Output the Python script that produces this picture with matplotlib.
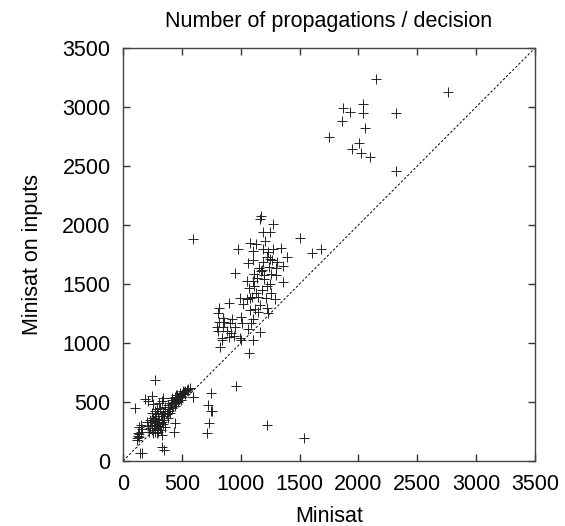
import numpy as np
import matplotlib
matplotlib.use("Agg")
import matplotlib.pyplot as plt

plt.rcParams['font.family'] = ['Liberation Sans', 'DejaVu Sans']

# points: (Minisat, Minisat on inputs)
upper_pts = [(2152, 3235), (2759, 3125), (1869, 2994), (1926, 2960), (2039, 3023), (2042, 2947),
             (2317, 2949), (1858, 2879), (2053, 2819), (1753, 2743), (2005, 2695), (1943, 2641),
             (2019, 2613), (2101, 2574), (2317, 2458)]

middle_pts = [(1172, 2079), (1167, 2051), (1274, 2006), (1187, 1938), (1249, 1943), (592, 1879),
              (1506, 1893), (1209, 1867), (1079, 1845), (1133, 1836), (980, 1794), (1102, 1782),
              (1272, 1797), (1340, 1805), (1606, 1760), (1680, 1794), (1396, 1731), (1221, 1726),
              (1249, 1709), (1065, 1681), (1309, 1686), (1107, 1703), (1297, 1633), (1240, 1647),
              (1359, 1655), (1155, 1633), (1172, 1610), (952, 1596), (1116, 1585), (1198, 1574),
              (1257, 1585), (1054, 1528), (1102, 1528), (1357, 1520), (1221, 1486), (1249, 1497),
              (1071, 1463), (1116, 1480), (1099, 1393), (1079, 1379), (997, 1381), (1051, 1373),
              (1150, 1387), (1215, 1379), (1291, 1370), (898, 1336), (1017, 1328), (1167, 1325),
              (818, 1297), (1221, 1299), (1079, 1280), (1121, 1286), (1150, 1265), (805, 1252),
              (1229, 1252), (850, 1209), (926, 1206), (1003, 1223), (1102, 1203), (816, 1181),
              (861, 1181), (909, 1169), (1011, 1172), (1088, 1172), (801, 1138), (852, 1138),
              (952, 1138), (1065, 1116), (810, 1102), (886, 1102), (1164, 1096), (920, 1082),
              (946, 1062), (994, 1045), (841, 1040), (898, 1054), (1107, 1025), (827, 964),
              (1068, 918), (963, 636), (745, 574), (838, 1025), (1000, 1025), (1190, 1690),
              (1180, 1620), (1140, 1550), (1180, 1450), (1260, 1420), (1130, 1420), (1200, 1540),
              (1300, 1580), (1270, 1700), (1230, 1770), (1190, 1800)]

lower_pts = [(598, 545), (754, 426), (276, 684), (102, 447), (745, 424), (733, 325),
             (716, 240), (1221, 302), (1540, 198), (159, 65), (329, 116), (351, 93), (436, 248),
             (442, 325), (592, 540), (725, 475), (244, 551), (187, 523), (215, 511), (258, 480),
             (309, 489), (329, 511), (342, 531), (292, 438), (244, 404), (252, 362), (229, 347),
             (280, 381), (309, 347), (337, 404), (150, 305), (159, 269), (130, 240), (139, 229),
             (116, 198), (122, 178), (244, 305), (272, 277), (300, 248), (314, 291), (258, 235),
             (292, 235), (329, 220), (224, 248), (379, 362), (399, 404), (413, 447), (442, 489),
             (470, 531), (484, 559), (512, 574), (541, 602), (569, 616), (385, 475), (413, 517),
             (442, 545), (314, 447), (357, 460), (286, 319), (329, 333), (357, 291), (144, 70),
             (360, 420), (380, 440), (400, 460), (420, 480), (430, 500), (450, 510), (460, 525),
             (475, 540), (490, 550), (500, 565), (520, 585), (530, 595), (555, 610), (500, 540),
             (470, 500), (440, 470), (350, 380), (320, 380), (300, 400), (270, 420), (260, 300),
             (280, 330), (300, 300), (320, 260), (340, 310), (230, 280), (210, 300), (200, 330),
             (350, 350), (370, 400), (390, 420), (460, 560), (480, 580), (510, 590), (410, 490),
             (135, 200), (125, 210), (150, 250), (140, 290), (250, 260), (270, 250), (290, 270),
             (310, 330), (260, 340), (240, 330), (270, 360), (300, 360), (330, 380), (420, 530),
             (450, 560), (490, 520), (530, 570)]

pts = np.array(upper_pts + middle_pts + lower_pts)
minisat = pts[:, 0]
minisat_inputs = pts[:, 1]

ticks = [0, 500, 1000, 1500, 2000, 2500, 3000, 3500]

fig = plt.figure(figsize=(5.65, 5.26), dpi=100)
ax = fig.add_axes([123 / 565, 1 - 461 / 526, 412 / 565, 413 / 526])

ax.plot([0, 3500], [0, 3500], color='black', lw=0.7, linestyle=(0, (2.5, 2)))
ax.plot(minisat, minisat_inputs, linestyle='none', marker='+', markersize=7,
        markeredgewidth=0.7, color='#222222')

ax.set_xlim(0, 3500)
ax.set_ylim(0, 3500)
ax.set_xticks(ticks)
ax.set_yticks(ticks)
ax.tick_params(direction='in', length=5, width=1, top=True, right=True,
               labelsize=15.5, color='#333333')
ax.tick_params(axis='x', pad=9)
ax.tick_params(axis='y', pad=9)
for s in ax.spines.values():
    s.set_linewidth(1)
    s.set_color('#444444')

ax.set_xlabel("Minisat", fontsize=15.5, labelpad=8)
ax.set_ylabel("Minisat on inputs", fontsize=15.5, labelpad=14)
ax.set_title("Number of propagations / decision", fontsize=15.5, pad=15)

fig.savefig("out.png", dpi=100)
